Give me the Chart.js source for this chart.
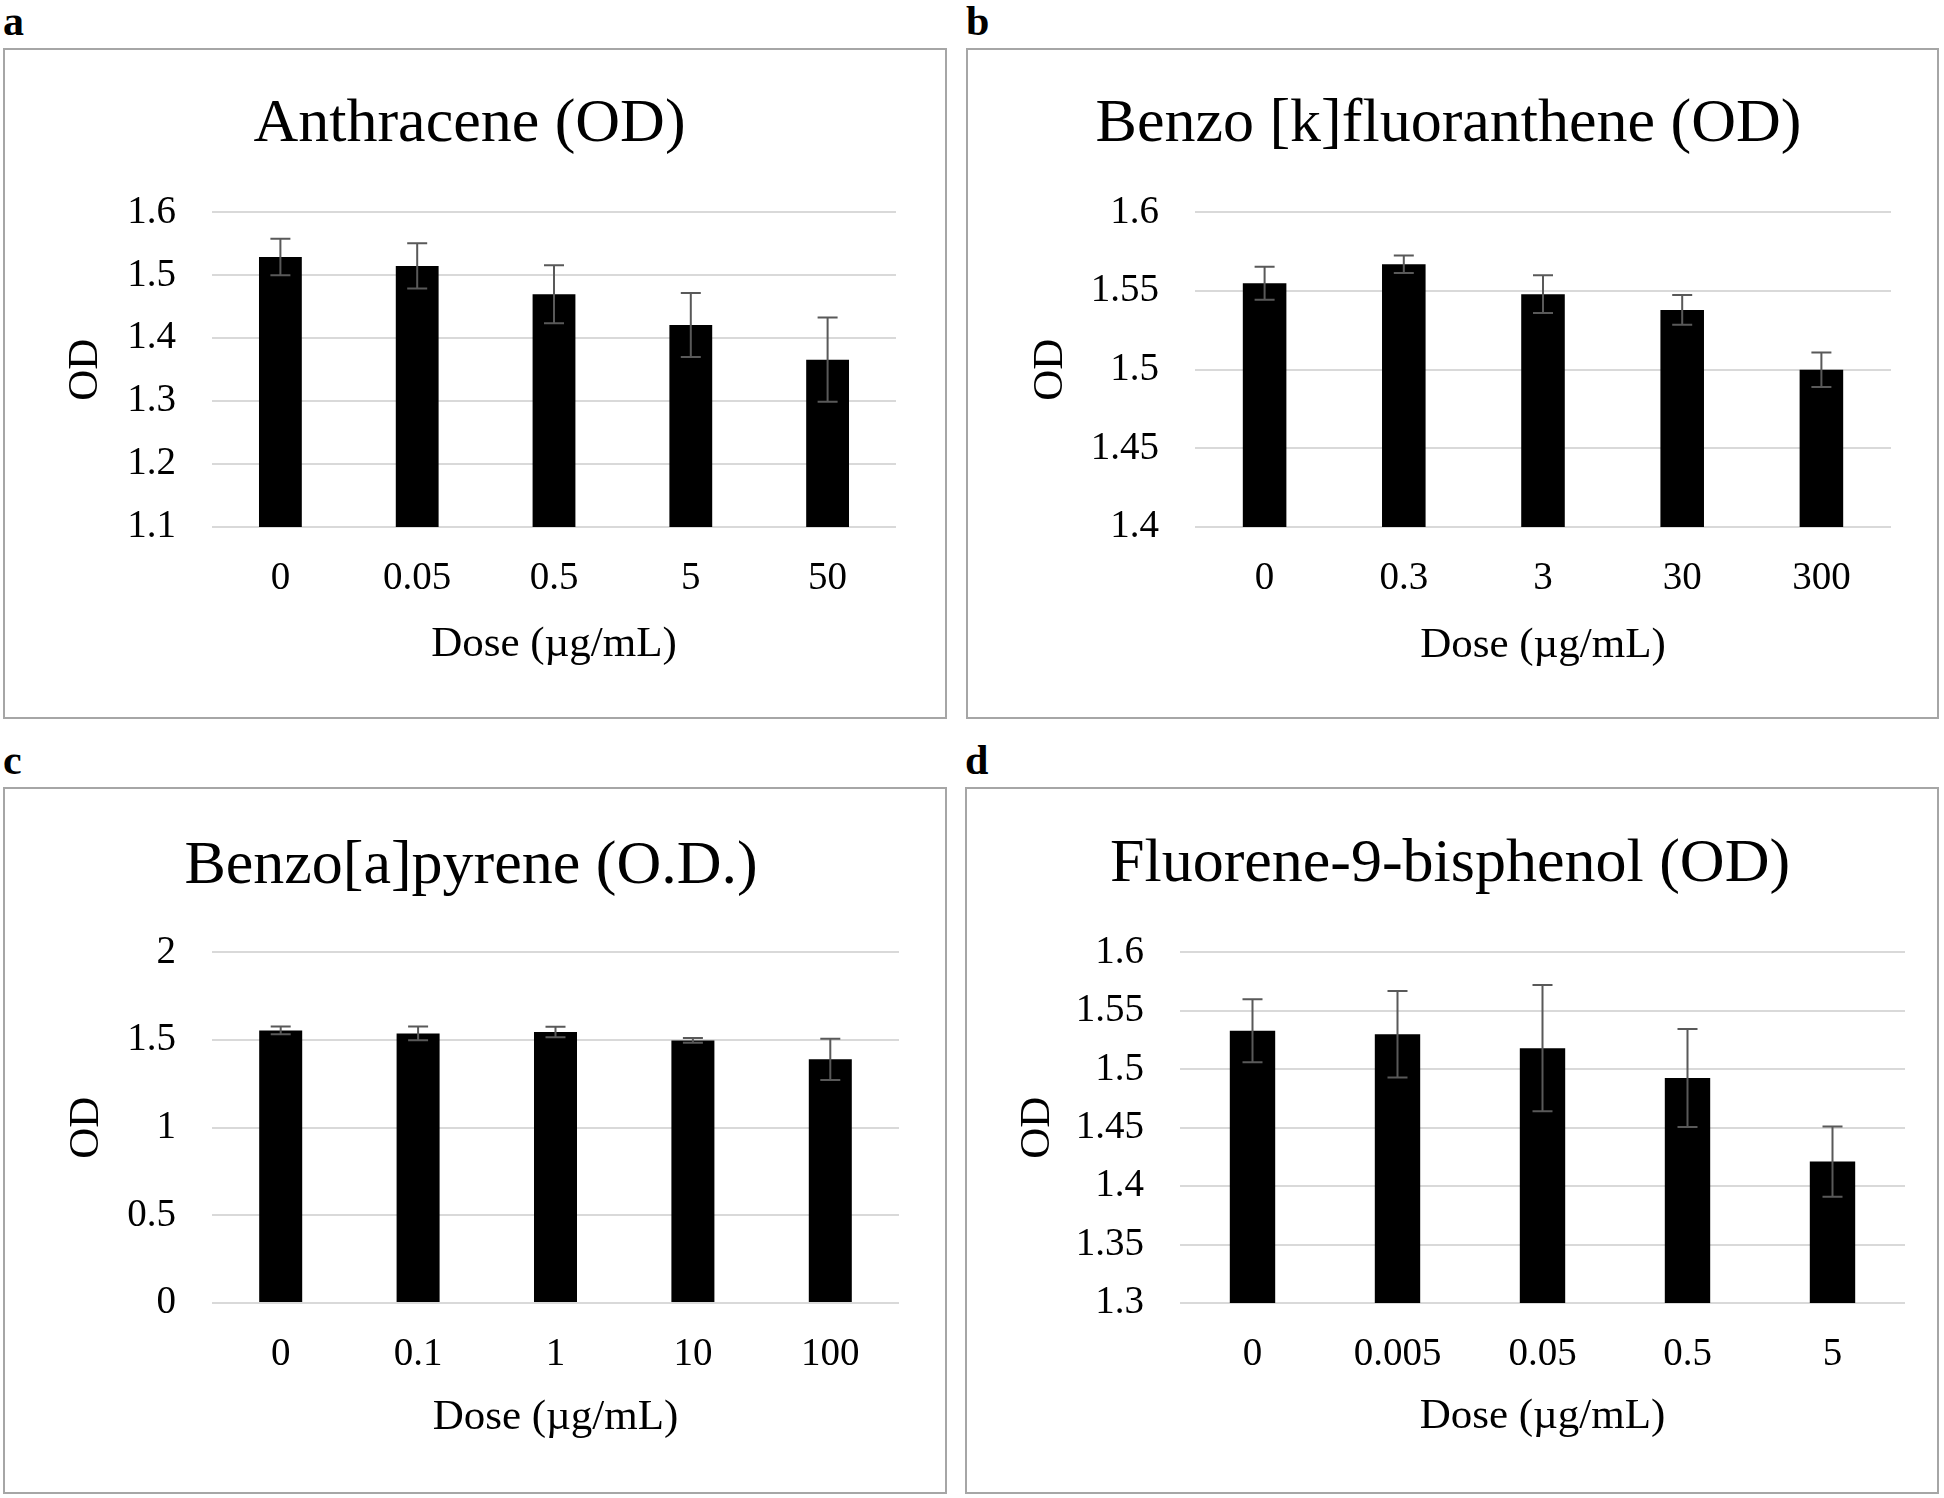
<!DOCTYPE html>
<html>
<head>
<meta charset="utf-8">
<script src="https://cdn.jsdelivr.net/npm/chart.js@4.4.1/dist/chart.umd.min.js"></script>
<style>
  body { margin: 0; background: #fff; }
  #page { position: relative; width: 1944px; height: 1498px; overflow: hidden; background: #fff; }
  .box { position: absolute; border: 2px solid #a6a6a6; box-sizing: border-box; }
  canvas { position: absolute; }
  .tag { position: absolute; font: bold 42px 'Liberation Serif', 'Times New Roman', serif; line-height: 42px; color: #000; }
</style>
</head>
<body>
<div id="page"></div>
<script>
// a: Anthracene
const dosesA = ['0', '0.05', '0.5', '5', '50'];
const odA = [1.529, 1.515, 1.470, 1.421, 1.366];
const errA = [0.029, 0.036, 0.046, 0.051, 0.067];
const ticksA = [1.1, 1.2, 1.3, 1.4, 1.5, 1.6];

// b: Benzo[k]fluoranthene
const dosesB = ['0', '0.3', '3', '30', '300'];
const odB = [1.555, 1.567, 1.548, 1.538, 1.500];
const errB = [0.0105, 0.0056, 0.012, 0.0095, 0.011];
const ticksB = [1.4, 1.45, 1.5, 1.55, 1.6];

// c: Benzo[a]pyrene
const dosesC = ['0', '0.1', '1', '10', '100'];
const odC = [1.555, 1.538, 1.546, 1.498, 1.390];
const errC = [0.022, 0.039, 0.030, 0.014, 0.118];
const ticksC = [0, 0.5, 1, 1.5, 2];

// d: Fluorene-9-bisphenol
const dosesD = ['0', '0.005', '0.05', '0.5', '5'];
const odD = [1.533, 1.530, 1.518, 1.4925, 1.421];
const errD = [0.027, 0.037, 0.054, 0.042, 0.030];
const ticksD = [1.3, 1.35, 1.4, 1.45, 1.5, 1.55, 1.6];

Chart.defaults.font.family = "'Liberation Serif', 'Times New Roman', serif";
Chart.defaults.color = '#000';

// Excel-style error bars, drawn through the y scale
const errorBars = {
  id: 'errorBars',
  afterDatasetsDraw(chart, args, opts) {
    const { ctx } = chart;
    const y = chart.scales.y;
    const ds = chart.data.datasets[0];
    const meta = chart.getDatasetMeta(0);
    ctx.save();
    ctx.strokeStyle = '#595959';
    ctx.lineWidth = 2;
    meta.data.forEach((bar, i) => {
      const v = ds.data[i], e = opts.errors[i];
      const top = y.getPixelForValue(v + e);
      const bot = y.getPixelForValue(v - e);
      ctx.beginPath();
      ctx.moveTo(bar.x, top); ctx.lineTo(bar.x, bot);
      ctx.moveTo(bar.x - 10, top); ctx.lineTo(bar.x + 10, top);
      ctx.moveTo(bar.x - 10, bot); ctx.lineTo(bar.x + 10, bot);
      ctx.stroke();
    });
    ctx.restore();
  }
};

const page = document.getElementById('page');

function panel(p) {
  const box = document.createElement('div');
  box.className = 'box';
  Object.assign(box.style, { left: p.left + 'px', top: p.top + 'px', width: p.w + 'px', height: p.h + 'px' });
  page.appendChild(box);

  const tag = document.createElement('div');
  tag.className = 'tag';
  tag.textContent = p.tag;
  Object.assign(tag.style, { left: p.left + 'px', top: (p.top - 48) + 'px' });
  page.appendChild(tag);

  const canvas = document.createElement('canvas');
  canvas.width = p.w; canvas.height = p.h;
  Object.assign(canvas.style, { left: p.left + 'px', top: p.top + 'px', width: p.w + 'px', height: p.h + 'px' });
  page.appendChild(canvas);

  new Chart(canvas, {
    type: 'bar',
    data: {
      labels: p.labels,
      datasets: [{
        data: p.values,
        backgroundColor: '#000',
        borderWidth: 0,
        categoryPercentage: 1,
        barPercentage: 0.313
      }]
    },
    options: {
      responsive: false,
      animation: false,
      layout: { padding: { left: p.padL, right: p.padR, top: 0, bottom: p.padB } },
      plugins: {
        legend: { display: false },
        tooltip: { enabled: false },
        title: {
          display: true, text: p.title, color: '#000',
          font: { size: 62, weight: 'normal' },
          padding: { top: p.tTop, bottom: p.tBot }
        },
        errorBars: { errors: p.errors }
      },
      scales: {
        x: {
          grid: { display: false },
          border: { display: false },
          ticks: { color: '#000', font: { size: 39 }, padding: 20, maxRotation: 0, autoSkip: false },
          title: { display: true, text: 'Dose (µg/mL)', color: '#000', font: { size: 43 }, padding: { top: 0, bottom: p.xtPad } },
          afterFit(s) { s.height = 150; }
        },
        y: {
          min: p.ticks[0],
          max: p.ticks[p.ticks.length - 1],
          grid: { color: '#d9d9d9', lineWidth: 2, drawTicks: false },
          border: { display: false },
          ticks: { color: '#000', font: { size: 39 }, padding: 36, callback: (v) => String(v) },
          afterBuildTicks(s) { s.ticks = p.ticks.map(v => ({ value: v })); },
          title: { display: true, text: 'OD', color: '#000', font: { size: 43 }, padding: { top: p.ytPad, bottom: 0 } },
          afterFit(s) { s.width = p.yW; }
        }
      }
    },
    plugins: [errorBars]
  });
}

panel({ tag: 'a', title: 'Anthracene (OD)', labels: dosesA, values: odA, errors: errA, ticks: ticksA,
  left: 3, top: 48, w: 944, h: 671, padL: 40, yW: 169, padR: 51, padB: 42, tTop: 40, tBot: 50, ytPad: 17, xtPad: 6 });
panel({ tag: 'b', title: 'Benzo [k]fluoranthene (OD)', labels: dosesB, values: odB, errors: errB, ticks: ticksB,
  left: 966, top: 48, w: 973, h: 671, padL: 40, yW: 189, padR: 48, padB: 42, tTop: 40, tBot: 50, ytPad: 19, xtPad: 5 });
panel({ tag: 'c', title: 'Benzo[a]pyrene (O.D.)', labels: dosesC, values: odC, errors: errC, ticks: ticksC,
  left: 3, top: 787, w: 944, h: 707, padL: 40, yW: 169, padR: 48, padB: 41, tTop: 43, tBot: 48, ytPad: 18, xtPad: 9 });
panel({ tag: 'd', title: 'Fluorene-9-bisphenol (OD)', labels: dosesD, values: odD, errors: errD, ticks: ticksD,
  left: 965, top: 787, w: 974, h: 707, padL: 30, yW: 185, padR: 34, padB: 41, tTop: 41, tBot: 50, ytPad: 17, xtPad: 10 });
</script>
</body>
</html>
